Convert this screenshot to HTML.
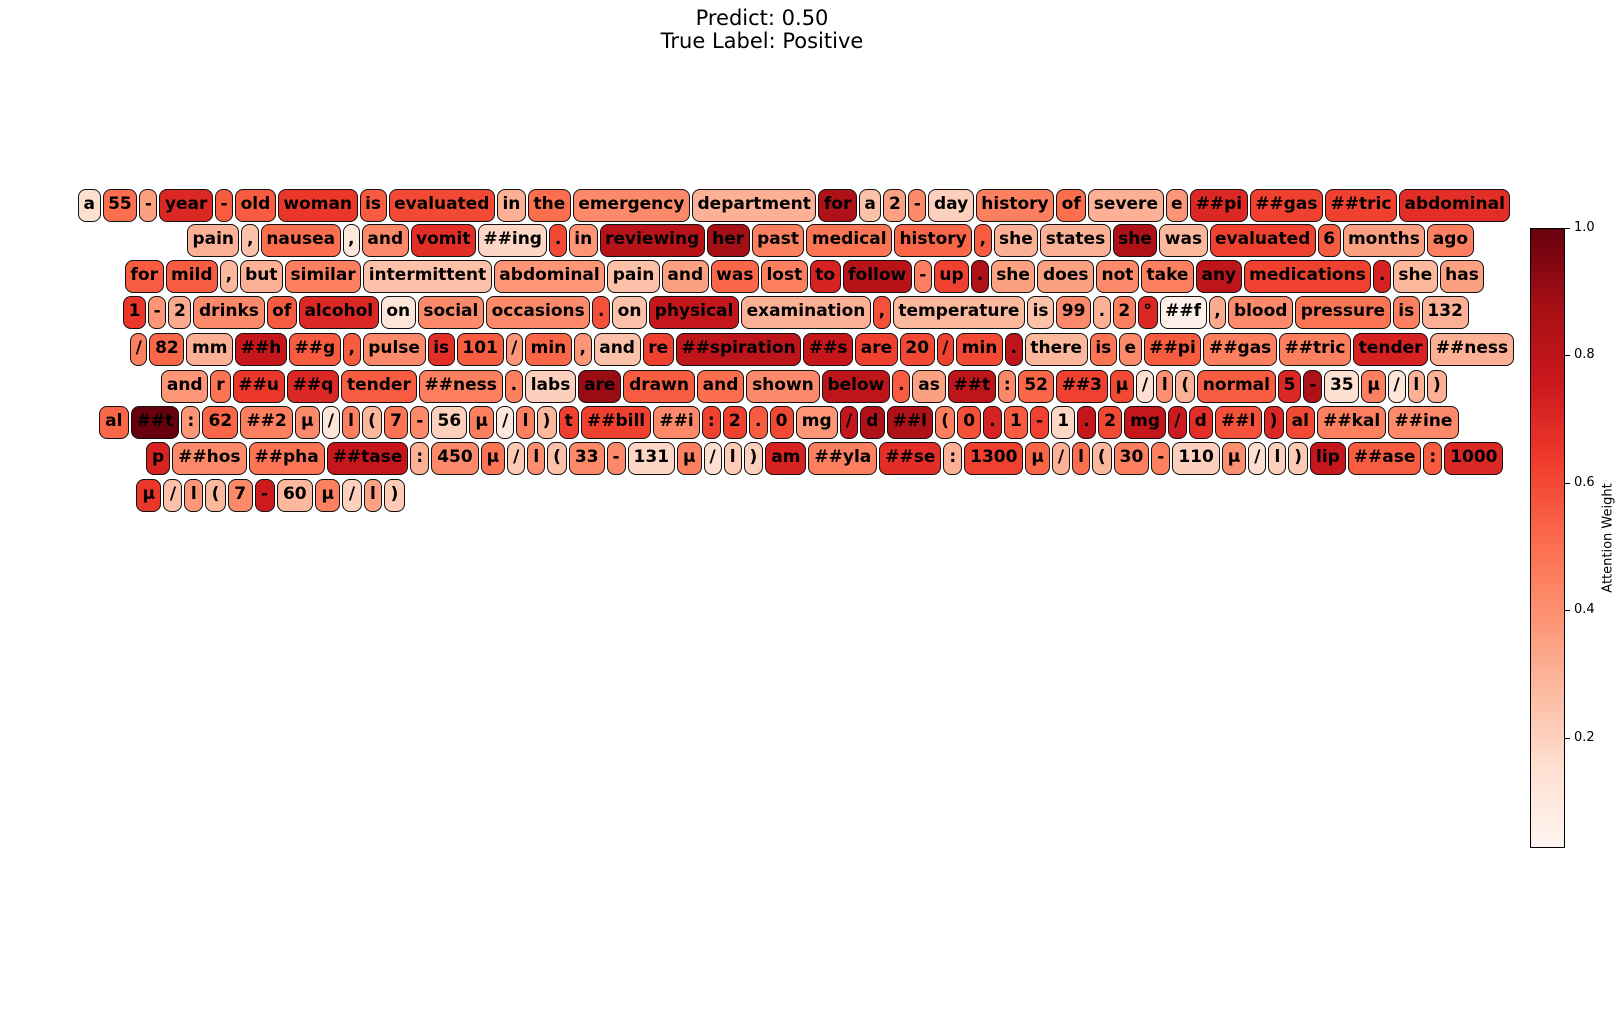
<!DOCTYPE html>
<html><head><meta charset="utf-8">
<style>
body{margin:0;width:1621px;height:1010px;background:#fff;position:relative;overflow:hidden;font-family:"DejaVu Sans","Liberation Sans",sans-serif;}
.title{position:absolute;left:0;width:1524px;text-align:center;font-size:21px;color:#000;}
.row{position:absolute;display:flex;gap:2px;height:33px;}
.tok{height:33px;box-sizing:border-box;border:1.8px solid #111;border-radius:8px;padding:0 6px;font-weight:bold;font-size:17px;line-height:29px;color:#000;white-space:pre;text-align:center;}
#cbar{position:absolute;left:1530px;top:228px;width:35px;height:620px;border:1px solid #000;box-sizing:border-box;
background:linear-gradient(to top,#fff5f0 0%,#fee0d2 12.5%,#fcbba1 25%,#fc9272 37.5%,#fb6a4a 50%,#ef3b2c 62.5%,#cb181d 75%,#a50f15 87.5%,#67000d 100%);}
.tick{position:absolute;left:1565px;width:5px;height:1px;background:#000;}
.tl{position:absolute;left:1574px;font-size:13px;font-family:"DejaVu Sans",sans-serif;}
</style></head><body>
<div class="title" style="top:6px">Predict: 0.50</div>
<div class="title" style="top:29px">True Label: Positive</div>
<div id="rows"></div>
<div id="cbar"></div>
<div id="cticks"></div>
<div style="position:absolute;left:1608px;top:538px;transform:translate(-50%,-50%) rotate(-90deg);font-size:13px;white-space:nowrap;">Attention Weight</div>
<script>
const rowStarts=[78,187,125,123,130,161,99,146,136];
const rowEnds=[1511,1474,1485,1469,1514,1447,1459,1504,405];
const rowTops=[189,224,260,296,333,370,406,442,479];
const row1=["a",.15,"55",.5,"-",.35,"year",.7,"-",.55,"old",.55,"woman",.65,"is",.55,"evaluated",.6,"in",.3,"the",.5,"emergency",.42,"department",.3,"for",.85,"a",.25,"2",.35,"-",.42,"day",.2,"history",.45,"of",.5,"severe",.3,"e",.38,"##pi",.7,"##gas",.62,"##tric",.62,"abdominal",.68];
const row2=["pain",.3,",",.25,"nausea",.5,",",.1,"and",.42,"vomit",.68,"##ing",.18,".",.6,"in",.38,"reviewing",.82,"her",.88,"past",.45,"medical",.48,"history",.52,",",.55,"she",.3,"states",.3,"she",.85,"was",.28,"evaluated",.62,"6",.55,"months",.35,"ago",.45];
const row3=["for",.55,"mild",.55,",",.28,"but",.3,"similar",.45,"intermittent",.25,"abdominal",.38,"pain",.25,"and",.35,"was",.52,"lost",.45,"to",.72,"follow",.82,"-",.45,"up",.62,".",.85,"she",.35,"does",.35,"not",.42,"take",.45,"any",.8,"medications",.62,".",.72,"she",.28,"has",.35];
const row4=["1",.65,"-",.38,"2",.32,"drinks",.42,"of",.55,"alcohol",.7,"on",.12,"social",.42,"occasions",.42,".",.58,"on",.25,"physical",.78,"examination",.3,",",.58,"temperature",.28,"is",.25,"99",.42,".",.3,"2",.45,"°",.7,"##f",.05,",",.32,"blood",.42,"pressure",.48,"is",.45,"132",.3];
const row5=["/",.45,"82",.52,"mm",.3,"##h",.78,"##g",.55,",",.55,"pulse",.42,"is",.68,"101",.55,"/",.38,"min",.52,",",.38,"and",.25,"re",.62,"##spiration",.8,"##s",.78,"are",.62,"20",.6,"/",.62,"min",.6,".",.8,"there",.28,"is",.48,"e",.42,"##pi",.55,"##gas",.45,"##tric",.45,"tender",.72,"##ness",.3];
const row6=["and",.38,"r",.48,"##u",.65,"##q",.7,"tender",.55,"##ness",.45,".",.45,"labs",.2,"are",.9,"drawn",.55,"and",.5,"shown",.42,"below",.8,".",.55,"as",.35,"##t",.8,":",.42,"52",.52,"##3",.62,"μ",.6,"/",.15,"l",.4,"(",.3,"normal",.55,"5",.7,"-",.85,"35",.15,"μ",.45,"/",.12,"l",.3,")",.3];
const row7=["al",.52,"##t",1.0,":",.38,"62",.52,"##2",.45,"μ",.42,"/",.12,"l",.45,"(",.28,"7",.48,"-",.42,"56",.2,"μ",.45,"/",.1,"l",.45,")",.28,"t",.62,"##bill",.62,"##i",.42,":",.62,"2",.62,".",.55,"0",.6,"mg",.38,"/",.78,"d",.85,"##l",.85,"(",.45,"0",.58,".",.72,"1",.55,"-",.62,"1",.18,".",.78,"2",.6,"mg",.78,"/",.75,"d",.68,"##l",.58,")",.7,"al",.6,"##kal",.45,"##ine",.42];
const row8=["p",.72,"##hos",.42,"##pha",.48,"##tase",.78,":",.3,"450",.42,"μ",.48,"/",.22,"l",.4,"(",.25,"33",.42,"-",.42,"131",.18,"μ",.45,"/",.15,"l",.22,")",.2,"am",.72,"##yla",.45,"##se",.68,":",.3,"1300",.62,"μ",.52,"/",.3,"l",.5,"(",.28,"30",.45,"-",.45,"110",.2,"μ",.4,"/",.15,"l",.2,")",.22,"lip",.78,"##ase",.55,":",.55,"1000",.7];
const row9=["μ",.65,"/",.25,"l",.38,"(",.28,"7",.42,"-",.75,"60",.28,"μ",.45,"/",.2,"l",.35,")",.22];
const rows=[row1,row2,row3,row4,row5,row6,row7,row8,row9];
const tickVals=[0.2,0.4,0.6,0.8,1.0];
const stops=["#fff5f0","#fee0d2","#fcbba1","#fc9272","#fb6a4a","#ef3b2c","#cb181d","#a50f15","#67000d"];
const vmin=0.027,vmax=1.0;
function hex(h){return [1,3,5].map(i=>parseInt(h.substr(i,2),16));}
function cmap(v){let t=Math.max(0,Math.min(1,(v-vmin)/(vmax-vmin)))*8;let i=Math.min(7,Math.floor(t));let f=t-i;
 let a=hex(stops[i]),b=hex(stops[i+1]);return 'rgb('+a.map((x,k)=>Math.round(x+(b[k]-x)*f)).join(',')+')';}
const cont=document.getElementById('rows');
rows.forEach((r,ri)=>{
 const d=document.createElement('div');d.className='row';
 
 
 d.style.left=rowStarts[ri]+'px';d.style.top=rowTops[ri]+'px';
 const toks=[];
 for(let i=0;i<r.length;i+=2){
  const s=document.createElement('div');s.className='tok';s.textContent=r[i];
  s.style.background=cmap(r[i+1]);
  s.style.padding='0';
  
  
  d.appendChild(s);toks.push(s);
 }
 cont.appendChild(d);
 const w=d.getBoundingClientRect().width;
 const n=toks.length;
 const pad=Math.max(2,(rowEnds[ri]-rowStarts[ri]-w)/(2*n));
 toks.forEach(s=>{s.style.padding='0 '+pad+'px';});
});
const ct=document.getElementById('cticks');
const cTop=228,cH=620;
function yOf(v){return cTop+cH*(1-(v-vmin)/(vmax-vmin));}
tickVals.forEach(v=>{
 const t=document.createElement('div');t.className='tick';t.style.top=yOf(v)+'px';
 
 
 ct.appendChild(t);
 const l=document.createElement('div');l.className='tl';l.textContent=v.toFixed(1);l.style.top=(yOf(v)-8)+'px';
 
 
 ct.appendChild(l);
});
</script>
</body></html>
